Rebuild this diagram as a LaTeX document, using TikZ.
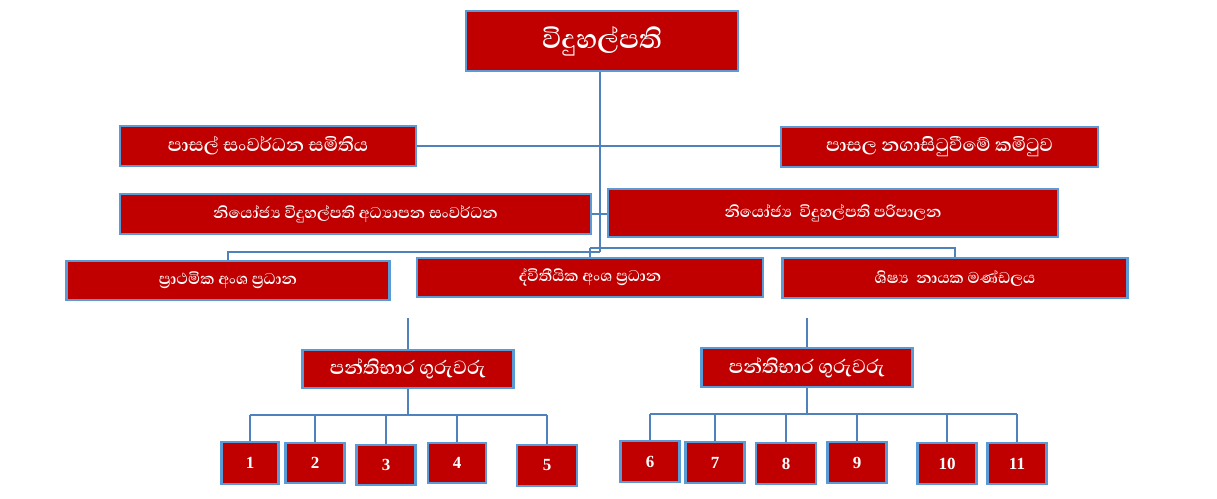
\documentclass[tikz,border=0pt]{standalone}
\usepackage{fontspec}
\newfontfamily\sinhalafont[Script=Sinhala]{Abhaya Libre}
\newfontfamily\numfont{Liberation Serif}
\definecolor{boxred}{HTML}{C00000}
\definecolor{boxblue}{HTML}{5B9BD5}
\definecolor{linkblue}{HTML}{4F81BD}
\begin{document}
\begin{tikzpicture}[x=1pt,y=-1pt,
  box/.style={draw=boxblue, line width=2.4pt, fill=boxred, text=white, inner sep=0pt, font=\sinhalafont\bfseries},
  numbox/.style={box, font=\numfont\bfseries\fontsize{17}{17}\selectfont},
  link/.style={draw=linkblue, line width=2pt}]
\useasboundingbox (0,0) rectangle (1217,498);
% top
\node[box, minimum width=272pt, minimum height=60pt, font=\sinhalafont\bfseries\fontsize{34}{34}\selectfont] (top) at (602,41) {විදුහල්පති};
% level 2
\node[box, minimum width=296pt, minimum height=40pt, font=\sinhalafont\bfseries\fontsize{23.5}{23.5}\selectfont] (psc) at (268,146) {පාසල් සංවර්ධන සමිතිය};
\node[box, minimum width=317pt, minimum height=40pt, font=\sinhalafont\bfseries\fontsize{23.5}{23.5}\selectfont] (pnk) at (939.5,147) {පාසල නගාසිටුවීමේ කමිටුව};
% level 3
\node[box, minimum width=471pt, minimum height=40pt, font=\sinhalafont\bfseries\fontsize{20}{20}\selectfont] (ndev) at (355.5,214) {නියෝජ්^^^^200dය විදුහල්පති අධ්^^^^200dයාපන සංවර්ධන};
\node[box, minimum width=450pt, minimum height=48pt, font=\sinhalafont\bfseries\fontsize{20}{20}\selectfont] (nadm) at (833,213) {නියෝජ්^^^^200dය\ \ විදුහල්පති පරිපාලන};
% level 4
\node[box, minimum width=323pt, minimum height=39pt, font=\sinhalafont\bfseries\fontsize{20}{20}\selectfont] (prim) at (228,280.5) {ප්^^^^200dරාථමික අංශ ප්^^^^200dරධාන};
\node[box, minimum width=346pt, minimum height=39pt, font=\sinhalafont\bfseries\fontsize{20}{20}\selectfont] (sec) at (590,277.5) {ද්විතීයික අංශ ප්^^^^200dරධාන};
\node[box, minimum width=345pt, minimum height=40pt, font=\sinhalafont\bfseries\fontsize{20}{20}\selectfont] (stu) at (955,278) {ශිෂ්^^^^200dය\ \ නායක මණ්ඩලය};
% class teachers
\node[box, minimum width=211pt, minimum height=38pt, font=\sinhalafont\bfseries\fontsize{24.5}{24.5}\selectfont] (pg1) at (408,369) {පන්තිභාර ගුරුවරු};
\node[box, minimum width=211pt, minimum height=39pt, font=\sinhalafont\bfseries\fontsize{24.5}{24.5}\selectfont] (pg2) at (807,367.5) {පන්තිභාර ගුරුවරු};
% number boxes
\node[numbox, minimum width=57pt, minimum height=42pt] (b1) at (250,463) {1};
\node[numbox, minimum width=59pt, minimum height=40pt] (b2) at (315,463) {2};
\node[numbox, minimum width=59pt, minimum height=40pt] (b3) at (386,465) {3};
\node[numbox, minimum width=58pt, minimum height=40pt] (b4) at (457,463) {4};
\node[numbox, minimum width=60pt, minimum height=41pt] (b5) at (547,465.5) {5};
\node[numbox, minimum width=59pt, minimum height=41pt] (b6) at (650,461.5) {6};
\node[numbox, minimum width=59pt, minimum height=41pt] (b7) at (715,462.5) {7};
\node[numbox, minimum width=60pt, minimum height=41pt] (b8) at (786,463.5) {8};
\node[numbox, minimum width=59pt, minimum height=41pt] (b9) at (857,462.5) {9};
\node[numbox, minimum width=59pt, minimum height=41pt] (b10) at (947,463.5) {10};
\node[numbox, minimum width=59pt, minimum height=41pt] (b11) at (1017,463.5) {11};
% coordinates
\coordinate (J) at (600,252);
\coordinate (K) at (590,248);
\coordinate (F1) at (408,318);
\coordinate (F2) at (807,318);
\coordinate (L1) at (408,415);
\coordinate (L2) at (807,414);
% connectors
\draw[link] (top.south -| J) -- (J);
\draw[link] (psc.east) -- (psc.east -| pnk.west);
\draw[link] (ndev.east) -- (ndev.east -| nadm.west);
\draw[link] (J) -| (prim.north);
\draw[link] (K) -- (sec.north);
\draw[link] (K) -| (stu.north);
\draw[link] (F1) -- (pg1.north);
\draw[link] (F2) -- (pg2.north);
\draw[link] (pg1.south) -- (L1);
\draw[link] (pg2.south) -- (L2);
\draw[link] (b1.north |- L1) -- (b5.north |- L1);
\draw[link] (b6.north |- L2) -- (b11.north |- L2);
\foreach \b in {b1,b2,b3,b4,b5} {\draw[link] (\b.north |- L1) -- (\b.north);}
\foreach \b in {b6,b7,b8,b9,b10,b11} {\draw[link] (\b.north |- L2) -- (\b.north);}
\end{tikzpicture}
\end{document}
